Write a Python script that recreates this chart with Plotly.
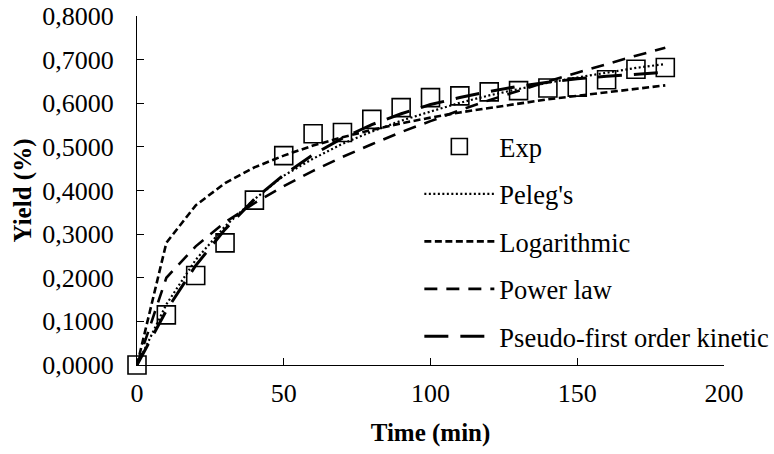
import plotly.graph_objects as go

time_min = [0, 10, 20, 30, 40, 50, 60, 70, 80, 90, 100, 110, 120, 130, 140, 150, 160, 170, 180]
exp_yield = [0.000, 0.115, 0.205, 0.280, 0.378, 0.480, 0.530, 0.533, 0.563, 0.590, 0.613,
             0.617, 0.626, 0.629, 0.635, 0.637, 0.654, 0.678, 0.682]
peleg = [0.000, 0.139, 0.241, 0.318, 0.380, 0.434, 0.473, 0.507, 0.535, 0.560, 0.581,
         0.601, 0.618, 0.633, 0.647, 0.659, 0.670, 0.681, 0.690]
logarithmic = [0.000, 0.280, 0.366, 0.417, 0.453, 0.480, 0.503, 0.522, 0.539, 0.554, 0.567,
               0.579, 0.589, 0.599, 0.609, 0.617, 0.625, 0.633, 0.641]
power_law = [0.000, 0.200, 0.272, 0.327, 0.371, 0.410, 0.445, 0.477, 0.506, 0.534, 0.559,
             0.584, 0.607, 0.629, 0.650, 0.670, 0.690, 0.709, 0.727]
pseudo_first = [0.000, 0.125, 0.228, 0.311, 0.380, 0.436, 0.482, 0.520, 0.551, 0.576, 0.597,
                0.613, 0.627, 0.639, 0.648, 0.656, 0.662, 0.667, 0.671]

x_ticks = [0, 50, 100, 150, 200]
y_ticks = [0.0, 0.1, 0.2, 0.3, 0.4, 0.5, 0.6, 0.7, 0.8]

FONT = "Liberation Serif, Times New Roman, serif"

fig = go.Figure()
fig.add_trace(go.Scatter(
    x=time_min, y=exp_yield, mode="markers", name="Exp", legendgroup="a",
    marker=dict(symbol="square-open", size=18, color="black", line=dict(width=1.6, color="black")),
    cliponaxis=False))
fig.add_trace(go.Scatter(
    x=time_min, y=peleg, mode="lines", name="Peleg's", legendgroup="b",
    line=dict(color="black", width=2.2, dash="2px,2.5px")))
fig.add_trace(go.Scatter(
    x=time_min, y=logarithmic, mode="lines", name="Logarithmic", legendgroup="c",
    line=dict(color="black", width=2.6, dash="7px,3.5px")))
fig.add_trace(go.Scatter(
    x=time_min, y=power_law, mode="lines", name="Power law", legendgroup="d",
    line=dict(color="black", width=2.6, dash="13px,9px")))
fig.add_trace(go.Scatter(
    x=time_min, y=pseudo_first, mode="lines", name="Pseudo-first order kinetic", legendgroup="e",
    line=dict(color="black", width=3, dash="24px,12px")))

axis_common = dict(
    showline=True, linecolor="black", linewidth=1.3,
    ticks="inside", ticklen=7, tickwidth=1.3, tickcolor="black",
    showgrid=False, zeroline=False,
    tickfont=dict(family=FONT, size=26, color="black"),
    automargin=False,
)

fig.update_layout(
    width=774, height=454,
    margin=dict(l=137, r=50, t=16, b=89, autoexpand=False),
    paper_bgcolor="white", plot_bgcolor="white",
    separators=",.",
    font=dict(family=FONT, size=26, color="black"),
    xaxis=dict(range=[0, 200], tickvals=x_ticks, ticklabelstandoff=5, **axis_common,
               title=dict(text="<b>Time (min)</b>", font=dict(family=FONT, size=25, color="black"), standoff=16)),
    yaxis=dict(range=[0, 0.8], tickvals=y_ticks, tickformat=".4f", ticklabelstandoff=17, **axis_common,
               title=dict(text="<b>Yield (%)</b>", font=dict(family=FONT, size=25, color="black"), standoff=3)),
    showlegend=True,
    legend=dict(x=0.481, y=0.694, xanchor="left", yanchor="top",
                bgcolor="rgba(0,0,0,0)", font=dict(family=FONT, size=26.5, color="black"),
                tracegroupgap=10, itemwidth=70),
)

fig.write_html("out.html")
